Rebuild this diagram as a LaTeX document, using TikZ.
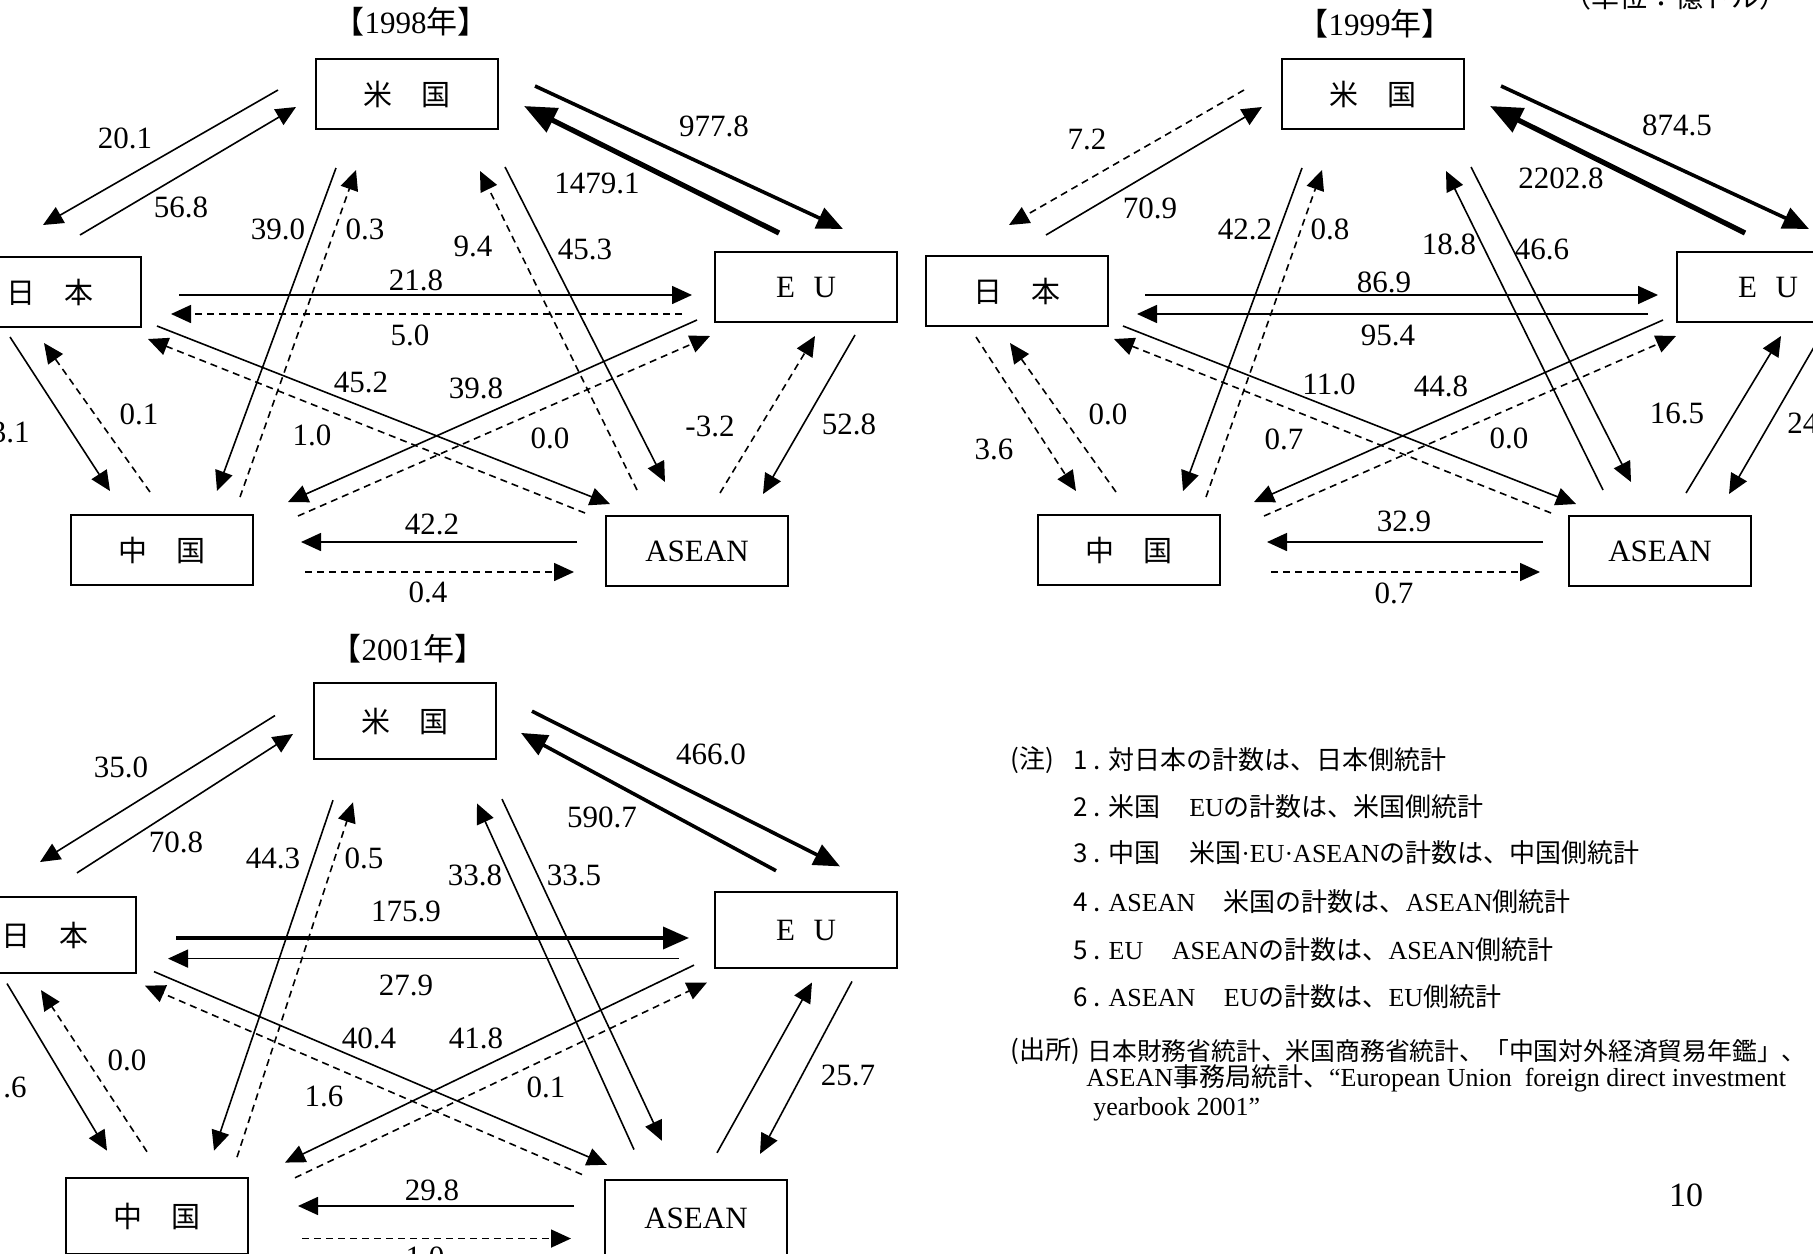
\documentclass[tikz,border=0pt]{standalone}
\usepackage{fontspec}
\setmainfont{Liberation Serif}
\newfontfamily\jp{Noto Sans CJK JP}
\usetikzlibrary{arrows.meta}

\tikzset{
  box/.style={draw, line width=0.9pt, minimum width=91pt, minimum height=35pt,
    inner sep=0pt, font=\fontsize{15.5}{18}\selectfont},
  boxjp/.style={box, font=\fontsize{14.5}{16}\selectfont\jp},
  trade/.style={line width=0.8pt, -{Triangle[length=10pt,width=9pt]}},
  tradedash/.style={trade, dash pattern=on 3.5pt off 2.5pt},
  tradebold/.style={line width=1.8pt, -{Triangle[length=13pt,width=11pt]}},
  tradeheavy/.style={line width=2.6pt, -{Triangle[length=16pt,width=13pt]}},
  amount/.style={inner sep=0pt, font=\fontsize{15.5}{18}\selectfont},
  note/.style={anchor=west, inner sep=0pt, font=\fontsize{13}{15}\selectfont},
}

\begin{document}
\begin{tikzpicture}[x=0.5pt, y=-0.5pt]
  \useasboundingbox (0,0) rectangle (1813,1253);

  % arrow ends, the same in the three panels (2001 is a bit taller)
  \foreach \yr/\dx/\dy/\sy in {98/0/0/1, 99/966/0/1, 01/-3/617.9/1.085} {
    \begin{scope}[shift={(\dx,\dy)}, yscale=\sy]
      \foreach \nm/\xa/\ya/\xb/\yb in {usjp/278/90/43/225, jpus/80/235/296/107,
          useu/535/86/843/229, euus/779/233/524/106,
          uscn/336/168/217/491, cnus/240/497/356/170,
          asus/637/490/480/171, usas/505/167/665/482,
          jpeu/179/295/692/295, eujp/682/314/171/314,
          jpas/157/326/610/504, asjp/585/513/148/339,
          eucn/697/320/288/502, cneu/298/516/710/336,
          jpcn/10/337/110/491, cnjp/150/492/44/343,
          euas/855/335/763/494, aseu/720/493/815/336,
          ascn/577/542/301/542, cnas/305/572/574/572}
        {\coordinate (\nm\yr a) at (\xa,\ya); \coordinate (\nm\yr b) at (\xb,\yb);}
    \end{scope}
  }

  % 1998
  \node[amount] (t98) at (411,22) {{\jp 【}1998{\jp 年】}};
  \node[boxjp] (us98) at (407,94) {米\hspace{1em}国};
  \node[boxjp] (jp98) at (50,292) {日\hspace{1em}本};
  \node[box] (eu98) at (806,287) {E\hspace{0.6em}U};
  \node[boxjp] (cn98) at (162,550) {中\hspace{1em}国};
  \node[box] (as98) at (697,551) {ASEAN};
  \draw[trade] (usjp98a) -- (usjp98b); \node[amount] (usjp98v) at (125,138) {20.1};
  \draw[trade] (jpus98a) -- (jpus98b); \node[amount] (jpus98v) at (181,207) {56.8};
  \draw[tradebold] (useu98a) -- (useu98b); \node[amount] (useu98v) at (714,126) {977.8};
  \draw[tradeheavy] (euus98a) -- (euus98b); \node[amount] (euus98v) at (597,183) {1479.1};
  \draw[trade] (uscn98a) -- (uscn98b); \node[amount] (uscn98v) at (278,229) {39.0};
  \draw[tradedash] (cnus98a) -- (cnus98b); \node[amount] (cnus98v) at (365,229) {0.3};
  \draw[tradedash] (asus98a) -- (asus98b); \node[amount] (asus98v) at (473,246) {9.4};
  \draw[trade] (usas98a) -- (usas98b); \node[amount] (usas98v) at (585,249) {45.3};
  \draw[trade] (jpeu98a) -- (jpeu98b); \node[amount] (jpeu98v) at (416,280) {21.8};
  \draw[tradedash] (eujp98a) -- (eujp98b); \node[amount] (eujp98v) at (410,335) {5.0};
  \draw[trade] (jpas98a) -- (jpas98b); \node[amount] (jpas98v) at (361,382) {45.2};
  \draw[tradedash] (asjp98a) -- (asjp98b); \node[amount] (asjp98v) at (312,435) {1.0};
  \draw[trade] (eucn98a) -- (eucn98b); \node[amount] (eucn98v) at (476,388) {39.8};
  \draw[tradedash] (cneu98a) -- (cneu98b); \node[amount] (cneu98v) at (550,438) {0.0};
  \draw[trade] (jpcn98a) -- (jpcn98b); \node[amount, anchor=east] (jpcn98v) at (30,432) {3.1};
  \draw[tradedash] (cnjp98a) -- (cnjp98b); \node[amount] (cnjp98v) at (139,414) {0.1};
  \draw[trade] (euas98a) -- (euas98b); \node[amount] (euas98v) at (849,424) {52.8};
  \draw[tradedash] (aseu98a) -- (aseu98b); \node[amount] (aseu98v) at (710,426) {-3.2};
  \draw[trade] (ascn98a) -- (ascn98b); \node[amount] (ascn98v) at (432,524) {42.2};
  \draw[tradedash] (cnas98a) -- (cnas98b); \node[amount] (cnas98v) at (428,592) {0.4};

  % 1999
  \node[amount] (t99) at (1375,24) {{\jp 【}1999{\jp 年】}};
  \node[boxjp] (us99) at (1373,94) {米\hspace{1em}国};
  \node[boxjp] (jp99) at (1017,291) {日\hspace{1em}本};
  \node[box] (eu99) at (1768,287) {E\hspace{0.6em}U};
  \node[boxjp] (cn99) at (1129,550) {中\hspace{1em}国};
  \node[box] (as99) at (1660,551) {ASEAN};
  \draw[tradedash] (usjp99a) -- (usjp99b); \node[amount] (usjp99v) at (1087,139) {7.2};
  \draw[trade] (jpus99a) -- (jpus99b); \node[amount] (jpus99v) at (1150,208) {70.9};
  \draw[tradebold] (useu99a) -- (useu99b); \node[amount] (useu99v) at (1677,125) {874.5};
  \draw[tradeheavy] (euus99a) -- (euus99b); \node[amount] (euus99v) at (1561,178) {2202.8};
  \draw[trade] (uscn99a) -- (uscn99b); \node[amount] (uscn99v) at (1245,229) {42.2};
  \draw[tradedash] (cnus99a) -- (cnus99b); \node[amount] (cnus99v) at (1330,229) {0.8};
  \draw[trade] (asus99a) -- (asus99b); \node[amount] (asus99v) at (1449,244) {18.8};
  \draw[trade] (usas99a) -- (usas99b); \node[amount] (usas99v) at (1542,249) {46.6};
  \draw[trade] (jpeu99a) -- (jpeu99b); \node[amount] (jpeu99v) at (1384,282) {86.9};
  \draw[trade] (eujp99a) -- (eujp99b); \node[amount] (eujp99v) at (1388,335) {95.4};
  \draw[trade] (jpas99a) -- (jpas99b); \node[amount] (jpas99v) at (1329,384) {11.0};
  \draw[tradedash] (asjp99a) -- (asjp99b); \node[amount] (asjp99v) at (1284,439) {0.7};
  \draw[trade] (eucn99a) -- (eucn99b); \node[amount] (eucn99v) at (1441,386) {44.8};
  \draw[tradedash] (cneu99a) -- (cneu99b); \node[amount] (cneu99v) at (1509,438) {0.0};
  \draw[tradedash] (jpcn99a) -- (jpcn99b); \node[amount] (jpcn99v) at (994,449) {3.6};
  \draw[tradedash] (cnjp99a) -- (cnjp99b); \node[amount] (cnjp99v) at (1108,414) {0.0};
  \draw[trade] (euas99a) -- (euas99b); \node[amount, anchor=west] (euas99v) at (1787,423) {24};
  \draw[trade] (aseu99a) -- (aseu99b); \node[amount] (aseu99v) at (1677,413) {16.5};
  \draw[trade] (ascn99a) -- (ascn99b); \node[amount] (ascn99v) at (1404,521) {32.9};
  \draw[tradedash] (cnas99a) -- (cnas99b); \node[amount] (cnas99v) at (1394,593) {0.7};

  % 2001
  \node[amount] (t01) at (408,649) {{\jp 【}2001{\jp 年】}};
  \node[boxjp, minimum height=38pt] (us01) at (405,721) {米\hspace{1em}国};
  \node[boxjp, minimum height=38pt] (jp01) at (45,935) {日\hspace{1em}本};
  \node[box, minimum height=38pt] (eu01) at (806,930) {E\hspace{0.6em}U};
  \node[boxjp, minimum height=38pt] (cn01) at (157,1216) {中\hspace{1em}国};
  \node[box, minimum height=38pt] (as01) at (696,1218) {ASEAN};
  \draw[trade] (usjp01a) -- (usjp01b); \node[amount] (usjp01v) at (121,767) {35.0};
  \draw[trade] (jpus01a) -- (jpus01b); \node[amount] (jpus01v) at (176,842) {70.8};
  \draw[tradebold] (useu01a) -- (useu01b); \node[amount] (useu01v) at (711,754) {466.0};
  \draw[tradebold] (euus01a) -- (euus01b); \node[amount] (euus01v) at (602,817) {590.7};
  \draw[trade] (uscn01a) -- (uscn01b); \node[amount] (uscn01v) at (273,858) {44.3};
  \draw[tradedash] (cnus01a) -- (cnus01b); \node[amount] (cnus01v) at (364,858) {0.5};
  \draw[trade] (asus01a) -- (asus01b); \node[amount] (asus01v) at (475,875) {33.8};
  \draw[trade] (usas01a) -- (usas01b); \node[amount] (usas01v) at (574,875) {33.5};
  \draw[tradebold] (jpeu01a) -- (jpeu01b); \node[amount] (jpeu01v) at (406,911) {175.9};
  \draw[trade] (eujp01a) -- (eujp01b); \node[amount] (eujp01v) at (406,985) {27.9};
  \draw[trade] (jpas01a) -- (jpas01b); \node[amount] (jpas01v) at (369,1038) {40.4};
  \draw[tradedash] (asjp01a) -- (asjp01b); \node[amount] (asjp01v) at (324,1096) {1.6};
  \draw[trade] (eucn01a) -- (eucn01b); \node[amount] (eucn01v) at (476,1038) {41.8};
  \draw[tradedash] (cneu01a) -- (cneu01b); \node[amount] (cneu01v) at (546,1087) {0.1};
  \draw[trade] (jpcn01a) -- (jpcn01b); \node[amount, anchor=east] (jpcn01v) at (27,1087) {.6};
  \draw[tradedash] (cnjp01a) -- (cnjp01b); \node[amount] (cnjp01v) at (127,1060) {0.0};
  \draw[trade] (euas01a) -- (euas01b); \node[amount] (euas01v) at (848,1075) {25.7};
  \draw[trade] (aseu01a) -- (aseu01b);
  \draw[trade] (ascn01a) -- (ascn01b); \node[amount] (ascn01v) at (432,1190) {29.8};
  \draw[tradedash] (cnas01a) -- (cnas01b); \node[amount] (cnas01v) at (425,1257) {1.0};

  % unit, notes, sources, page
  \node[anchor=base, inner sep=0pt, font=\fontsize{14}{16}\selectfont\jp] (unit) at (1675,7) {（単位：億ドル）};
  \node[note] (chu) at (1010,760) {\jp (注)};
  \node[note] (n1) at (1073,760) {\jp 1 . 対日本の計数は、日本側統計};
  \node[note] (n2) at (1073,807) {{\jp 2 . 米国}\hspace{1.1em}EU{\jp の計数は、米国側統計}};
  \node[note] (n3) at (1073,853) {{\jp 3 . 中国}\hspace{1.1em}{\jp 米国}·EU·ASEAN{\jp の計数は、中国側統計}};
  \node[note] (n4) at (1073,902) {{\jp 4 . }ASEAN\hspace{1.1em}{\jp 米国の計数は、}ASEAN{\jp 側統計}};
  \node[note] (n5) at (1073,950) {{\jp 5 . }EU\hspace{1.1em}ASEAN{\jp の計数は、}ASEAN{\jp 側統計}};
  \node[note] (n6) at (1073,997) {{\jp 6 . }ASEAN\hspace{1.1em}EU{\jp の計数は、}EU{\jp 側統計}};
  \node[note] (src) at (1010,1051) {\jp (出所)};
  \node[note, font=\fontsize{12.4}{15}\selectfont] (s1) at (1087,1051) {\jp 日本財務省統計、米国商務省統計、「中国対外経済貿易年鑑」、};
  \node[note] (s2) at (1086,1078) {ASEAN{\jp 事務局統計、}“European Union\ \ foreign direct investment};
  \node[note] (s3) at (1093,1109) {yearbook 2001”};
  \node[amount, font=\fontsize{17}{20}\selectfont] (page) at (1686,1195) {10};
\end{tikzpicture}
\end{document}
